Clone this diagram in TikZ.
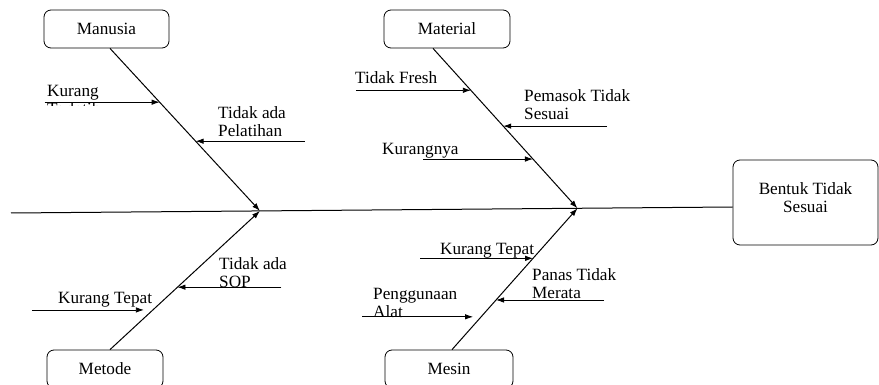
\documentclass[tikz,border=0pt]{standalone}
\usepackage{fontspec}
\setmainfont{Liberation Serif}
\usetikzlibrary{arrows.meta}
\tikzset{
	box/.style={draw,rounded corners=7pt,line width=0.8pt,minimum height=38pt,inner sep=0pt},
	txt/.style={anchor=north west,inner sep=0pt,align=left},
	cs/.style={-{Latex[length=8pt,width=5.5pt]},line width=0.8pt},
	sp/.style={-{Latex[length=8pt,width=5.5pt]},line width=1pt},
}
\begin{document}
\begin{tikzpicture}[x=1pt,y=-1pt,font=\fontsize{17.2}{18}\selectfont]
	\useasboundingbox (0,0) rectangle (879,385);
	\clip (0,0) rectangle (879,385);
	% kepala dan tulang utama
	\node[box,minimum width=145pt,minimum height=85pt,label={[align=center,yshift=5pt]center:Bentuk Tidak\\Sesuai}] (bts) at (805.5,202.5) {};
	\coordinate (tail) at (11,213);
	\coordinate (ujung) at ([yshift=-4.5pt]bts.west);
	\draw[line width=1pt] (tail) -- (ujung);
	\path (tail) -- (ujung) coordinate[pos=0.345] (hd1) coordinate[pos=0.785] (hd2);
	% kategori
	\node[box,minimum width=125pt] (man) at (106.5,29) {Manusia};
	\node[box,minimum width=126pt] (mat) at (447,29) {Material};
	\node[box,minimum width=116pt] (met) at (105,369) {Metode};
	\node[box,minimum width=128pt] (mes) at (449,369) {Mesin};
	\draw[sp] ([xshift=3.5pt]man.south) -- (hd1) coordinate[pos=0.331] (m1) coordinate[pos=0.571] (m2);
	\draw[sp] ([xshift=-14pt]mat.south) -- (hd2) coordinate[pos=0.262] (a1) coordinate[pos=0.486] (a2) coordinate[pos=0.692] (a3);
	\draw[sp] ([xshift=5pt]met.north) -- (hd1) coordinate[pos=0.286] (t1) coordinate[pos=0.45] (t2);
	\draw[sp] ([xshift=3pt]mes.north) -- (hd2) coordinate[pos=0.232] (s1) coordinate[pos=0.351] (s2) coordinate[pos=0.646] (s3);
	% manusia
	\begin{scope}
		\clip (0,0) rectangle (320,106);
		\node[txt] (kur) at (47,85) {Kurang\\Terlatih};
	\end{scope}
	\draw[cs] ([xshift=-115pt]m1) -- (m1);
	\node[txt] (pel) at (218,106) {Tidak ada\\Pelatihan};
	\draw[cs] ([xshift=109pt]m2) -- (m2);
	% material
	\node[txt] (fre) at (355,71) {Tidak Fresh};
	\draw[cs] ([xshift=-115pt]a1) -- (a1);
	\node[txt] (pem) at (524,89) {Pemasok Tidak\\Sesuai};
	\draw[cs] ([xshift=104pt]a2) -- (a2);
	\node[txt] (kgn) at (382,143) {Kurangnya};
	\draw[cs] ([xshift=-110pt]a3) -- (a3);
	% metode
	\node[txt] (kt1) at (58,292) {Kurang Tepat};
	\draw[cs,shorten >=9pt] ([xshift=-121pt]t1) -- (t1);
	\node[txt] (sop) at (219,257) {Tidak ada\\SOP};
	\draw[cs] ([xshift=104pt]t2) -- (t2);
	% mesin
	\node[txt] (alt) at (373,288) {Penggunaan\\Alat};
	\draw[cs,shorten >=8pt] ([xshift=-119pt]s1) -- (s1);
	\node[txt] (pns) at (532,268) {Panas Tidak\\Merata};
	\draw[cs] ([xshift=108pt]s2) -- (s2);
	\node[txt] (kt2) at (440,243) {Kurang Tepat};
	\draw[cs] ([xshift=-113pt]s3) -- (s3);
\end{tikzpicture}
\end{document}
